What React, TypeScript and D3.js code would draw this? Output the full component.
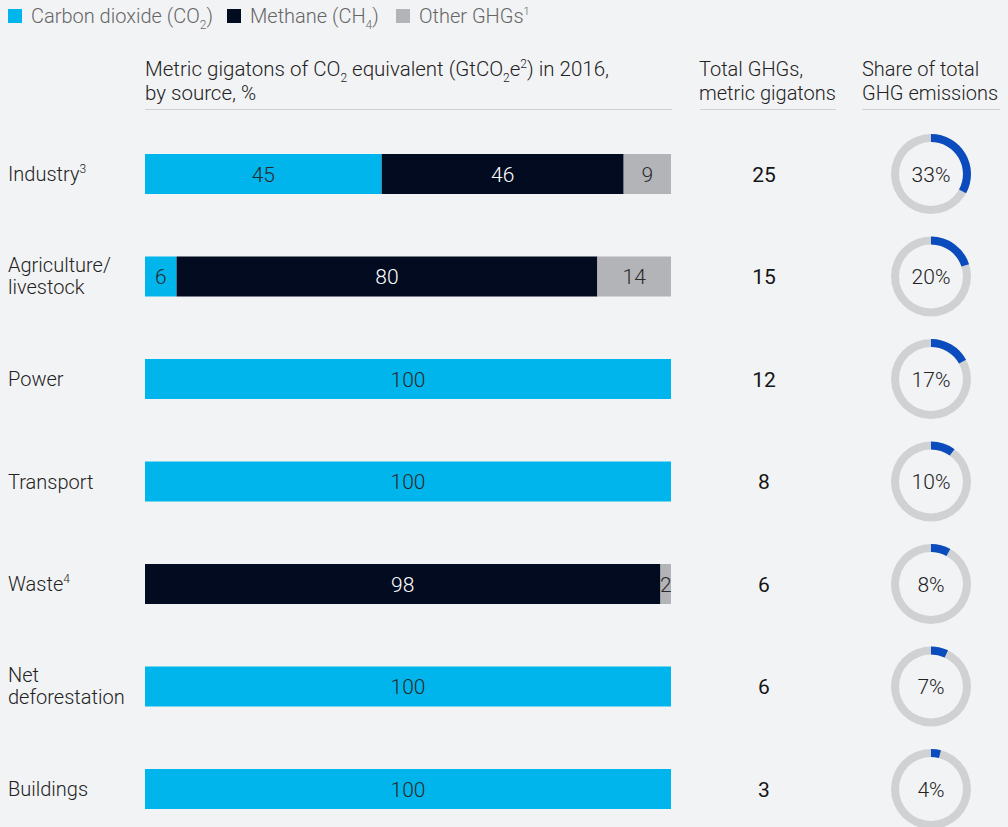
import * as React from "react";
import * as d3 from "d3";

const categories = ["Industry", "Agriculture/livestock", "Power", "Transport", "Waste", "Net deforestation", "Buildings"];
const labelLines = [["Industry"], ["Agriculture/", "livestock"], ["Power"], ["Transport"], ["Waste"], ["Net", "deforestation"], ["Buildings"]];
const labelNotes = ["3", "", "", "", "4", "", ""];
const co2 = [45, 6, 100, 100, 0, 100, 100];
const methane = [46, 80, 0, 0, 98, 0, 0];
const other = [9, 14, 0, 0, 2, 0, 0];
const totals = [25, 15, 12, 8, 6, 6, 3];
const shares = [33, 20, 17, 10, 8, 7, 4];
const seriesKeys = ["co2", "methane", "other"];

const W = 1008;
const H = 827;
const FONT = "Roboto, 'Liberation Sans', sans-serif";
const FS = 20;
const NUM = 21;
const colors = { co2: "#00b5eb", methane: "#020b1f", other: "#b3b4b8" };
const textOn = { co2: "#2a2a2a", methane: "#ffffff", other: "#2a2a2a" };
const ink = "#222222";

const Sub = ({ children }) => (
  <tspan dy="6" fontSize="12">{children}</tspan>
);

export default function App() {
  const x = d3.scaleLinear().domain([0, 100]).range([145, 671]);
  const y = d3.scalePoint().domain(categories).range([174, 789]);
  const bh = 40;

  const rows = categories.map((c, i) => ({ key: c, co2: co2[i], methane: methane[i], other: other[i] }));
  const stacked = d3.stack().keys(seriesKeys)(rows);

  const arc = d3.arc().innerRadius(32).outerRadius(40);
  const donutX = 931;

  const legend = [
    { key: "co2", x: 8, label: "Carbon dioxide (CO", sub: "2", tail: ")" },
    { key: "methane", x: 227, label: "Methane (CH", sub: "4", tail: ")" },
    { key: "other", x: 396, label: "Other GHGs", sup: "1" },
  ];

  return (
    <svg width={W} height={H} style={{ position: "absolute", left: 0, top: 0, background: "#f2f3f5" }} fontFamily={FONT}>
      <rect width={W} height={H} fill="#f2f3f5" />

      {legend.map((l) => (
        <g key={l.key}>
          <rect x={l.x} y={9} width={14} height={14} fill={colors[l.key]} />
          <text x={l.x + 23} y={23} fontSize={FS} fill="#666" fontWeight="300">
            {l.label}
            {l.sub && <Sub>{l.sub}</Sub>}
            {l.tail && <tspan dy="-6">{l.tail}</tspan>}
            {l.sup && <tspan dy="-8" fontSize="11">{l.sup}</tspan>}
          </text>
        </g>
      ))}

      <text x={145} y={76} fontSize={FS + 0.5} fill={ink} fontWeight="300">
        Metric gigatons of CO<Sub>2</Sub>
        <tspan dy="-6"> equivalent (GtCO</tspan>
        <Sub>2</Sub>
        <tspan dy="-6">e</tspan>
        <tspan dy="-8" fontSize="12">2</tspan>
        <tspan dy="8">) in 2016,</tspan>
      </text>
      <text x={145} y={100} fontSize={FS + 0.5} fill={ink} fontWeight="300">by source, %</text>
      <line x1={145} x2={672} y1={109.5} y2={109.5} stroke="#cfd0d3" />

      <text x={699} y={76} fontSize={FS} fill={ink} fontWeight="300">Total GHGs,</text>
      <text x={699} y={100} fontSize={FS} fill={ink} fontWeight="300">metric gigatons</text>
      <line x1={700} x2={836} y1={109.5} y2={109.5} stroke="#cfd0d3" />

      <text x={862} y={76} fontSize={FS} fill={ink} fontWeight="300">Share of total</text>
      <text x={862} y={100} fontSize={FS} fill={ink} fontWeight="300">GHG emissions</text>
      <line x1={862} x2={1000} y1={109.5} y2={109.5} stroke="#cfd0d3" />

      {categories.map((c, i) => {
        const cy = y(c);
        const lines = labelLines[i];
        const start = lines.length > 1 ? cy - 5 : cy + 7;
        return (
          <g key={c}>
            <text x={8} y={start} fontSize={FS} fill={ink} fontWeight="300">
              {lines.map((ln, j) => (
                <tspan key={j} x={8} y={start + j * 22}>{ln}</tspan>
              ))}
              {labelNotes[i] && <tspan dy="-8" fontSize="12">{labelNotes[i]}</tspan>}
            </text>
            <text x={764} y={cy + 7.5} textAnchor="middle" fontSize={NUM} fill="#151515">{totals[i]}</text>
            <g transform={`translate(${donutX},${cy})`}>
              <path d={arc({ startAngle: 0, endAngle: 2 * Math.PI })} fill="#d0d1d3" />
              <path d={arc({ startAngle: 0, endAngle: (shares[i] / 100) * 2 * Math.PI })} fill="#0a4bbd" />
              <text y={7.5} textAnchor="middle" fontSize={NUM} fill={ink} fontWeight="300">{shares[i]}%</text>
            </g>
          </g>
        );
      })}

      {stacked.map((s) =>
        s.map((d, i) => {
          const v = d[1] - d[0];
          if (v <= 0) return null;
          const c = categories[i];
          const cy = y(c);
          return (
            <g key={s.key + c}>
              <rect x={x(d[0])} y={cy - bh / 2} width={x(d[1]) - x(d[0])} height={bh} fill={colors[s.key]} />
              <text x={(x(d[0]) + x(d[1])) / 2} y={cy + 7.5} textAnchor="middle" fontSize={NUM} fill={textOn[s.key]} fontWeight="300">{v}</text>
            </g>
          );
        })
      )}
    </svg>
  );
}
